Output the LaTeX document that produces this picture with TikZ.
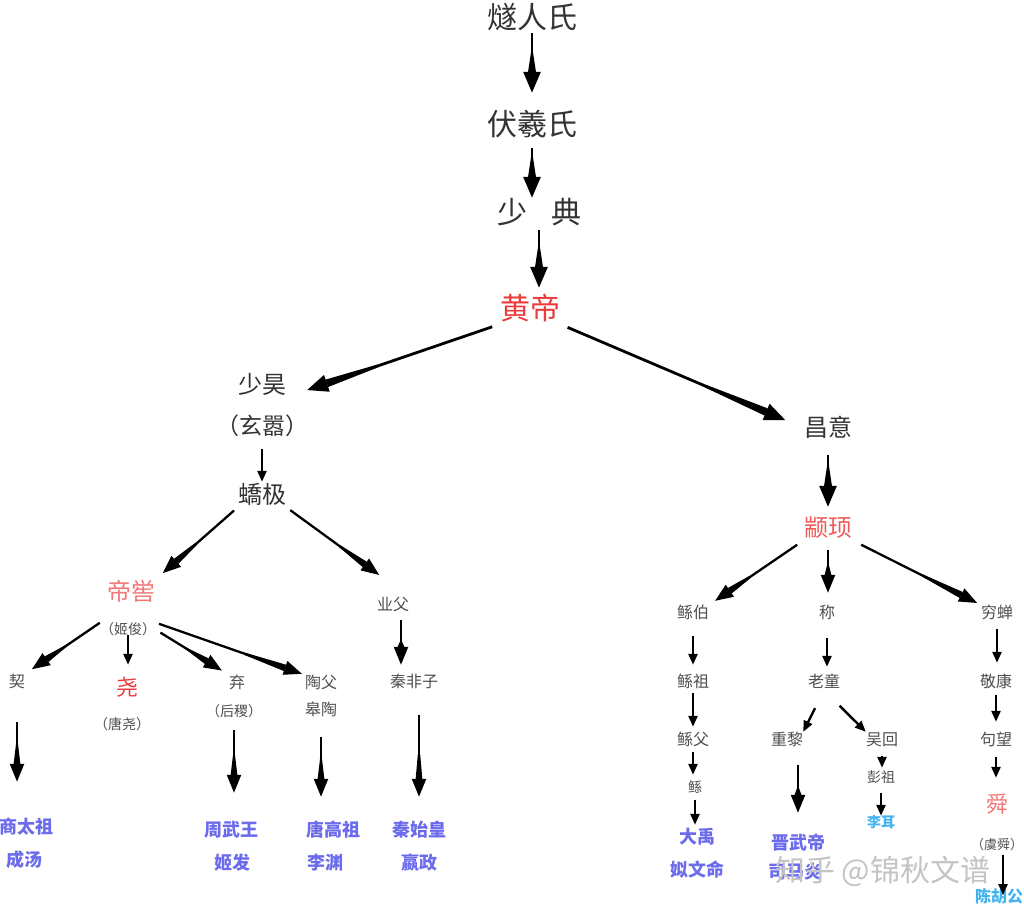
\documentclass[tikz,border=0pt]{standalone}
\usepackage{fontspec}
\setmainfont{Noto Sans CJK SC}
\usetikzlibrary{arrows.meta}

\definecolor{inkgray}{HTML}{333333}
\definecolor{softgray}{HTML}{4F4F4F}
\definecolor{namered}{HTML}{EC3B3B}
\definecolor{namepink}{HTML}{F27676}
\definecolor{nameblue}{HTML}{6B6BEC}
\definecolor{namecyan}{HTML}{45B4EE}
\definecolor{markgray}{HTML}{C4C4C4}

\begin{document}
\begin{tikzpicture}[x=1pt, y=-1pt,
  fsz/.style={font=\fontsize{#1}{#1}\selectfont, text height=0.84*#1pt, text depth=0.16*#1pt},
  person/.style={inner sep=0pt, text=softgray},
  top/.style={person, fsz=30, text=inkgray},
  mid/.style={person, fsz=24, text=inkgray},
  low/.style={person, fsz=16},
  note/.style={person, fsz=14},
  heir/.style={person, fsz=18, text=nameblue, execute at begin node={\bfseries}},
  bigarrow/.style={line width=2.8pt, -{Triangle[reversed,length=#1,width=7pt] Triangle[length=21pt,width=17pt]}},
  bigarrow/.default=28pt,
  midarrow/.style={line width=2.3pt, -{Triangle[reversed,length=#1,width=6pt] Triangle[length=18pt,width=14pt]}},
  midarrow/.default=20pt,
  smallarrow/.style={line width=2.4pt, -{Triangle[length=11pt,width=9pt]}}]
\clip (0,0) rectangle (1024,914);
\fill[white] (0,0) rectangle (1024,914);

% trunk
\foreach \n/\x/\y/\t in {sr/532/18/燧人氏, fx/532/125/伏羲氏, sd/539/213/{少\hspace{24pt}典}}
  \node[top] (\n) at (\x,\y) {\t};
\node[top, text=namered] (hd) at (530,309) {黄帝};

% second row
\node[mid] (sh) at (262,385) {少昊};
\node[mid, fsz=23] (shx) at (262,427) {（玄嚣）};
\node[mid] (jj) at (262,495) {蟜极};
\node[mid] (cy) at (828,428) {昌意};
\node[mid, text=namered!85] (zx) at (828,528) {颛顼};

% left branch
\node[mid, text=namepink] (dk) at (131,592) {帝喾};
\node[note] (dkx) at (128,630) {（姬俊）};
\node[low] (yf) at (393,605) {业父};
\foreach \n/\x/\y/\t in {qi/17/682/契, qq/237/683/弃, tf/321/683/陶父, gy/321/710/皋陶, qfz/414/682/秦非子}
  \node[low] (\n) at (\x,\y) {\t};
\node[low, fsz=22, text=namered] (yao) at (127,688) {尧};
\node[note] (yaox) at (122,725) {（唐尧）};
\node[note] (qqx) at (234,712) {（后稷）};

% right branch
\foreach \n/\x/\y/\t in {gb/693/613/鲧伯, ch/827/613/称, qc/997/613/穷蝉,
                         gz/693/682/鲧祖, lt/824/682/老童, jk/996/682/敬康,
                         gf/693/740/鲧父, zl/787/740/重黎, wh/882/740/吴回, gw/996/740/句望}
  \node[low] (\n) at (\x,\y) {\t};
\node[note] (gun) at (695,788) {鲧};
\node[note] (pz) at (881,778) {彭祖};
\node[low, fsz=22, text=namepink] (shun) at (997,805) {舜};
\node[note, fsz=13] (shunx) at (997,845) {（虞舜）};

% descendants
\foreach \n/\x/\y/\t in {st/26/827/商太祖, ct/24/860/成汤, zw/231/830/周武王, jf/232/863/姬发,
                         tg/333/830/唐高祖, ly/325/863/李渊, qs/419/830/秦始皇, yz/419/863/嬴政,
                         dy/697/837/大禹, syw/697/870/姒文命, jw/798/843/晋武帝, smy/795/872/司马炎}
  \node[heir] (\n) at (\x,\y) {\t};
\node[heir, fsz=14, text=namecyan] (le) at (881,823) {李耳};
\node[heir, fsz=16, text=namecyan] (chg) at (999,897) {陈胡公};

% arrows of the trunk
\foreach \a/\b/\s/\e in {sr/fx/0pt/17pt, fx/sd/8pt/0pt, sd/hd/2pt/6pt, cy/zx/15pt/9pt}
  \draw[bigarrow, shorten <=\s, shorten >=\e] (\a.south) -- (\a.south |- \b.north);
\draw[bigarrow=90pt, shorten <=8pt, shorten >=22pt] (hd.south west) -- (sh.south east);
\draw[bigarrow=110pt, shorten <=8pt, shorten >=20pt] (hd.south east) -- (cy.west);

% arrows on the left
\draw[smallarrow, shorten <=10pt, shorten >=1pt] (shx.south) -- (shx.south |- jj.north);
\draw[midarrow=45pt, shorten <=5pt, shorten >=10pt] (jj.south west) -- (dk.north east);
\draw[midarrow=50pt, shorten <=5pt, shorten >=37pt] (jj.south east) -- (yf.north east);
\draw[midarrow=35pt, shorten <=0pt, shorten >=8pt] (dkx.north west) -- (qi.north east);
\draw[smallarrow, shorten <=5pt, shorten >=12pt] (dkx.center) -- (dkx.center |- yao.north);
\draw[midarrow=35pt, shorten <=5pt, shorten >=8pt] (dkx.east) -- (qq.north west);
\draw[midarrow=70pt, shorten <=3pt, shorten >=3pt] (dkx.north east) -- (tf.north west);
\draw[midarrow=8pt, shorten <=7pt, shorten >=9pt] ([xshift=8pt]yf.south) -- ([xshift=8pt]yf.south |- qfz.north);

% long arrows down to the descendants
\foreach \a/\b/\s/\e in {qi/st/32pt/36pt, qqx/zw/11pt/28pt, gy/tg/19pt/24pt}
  \draw[midarrow=30pt, shorten <=\s, shorten >=\e] (\a.south) -- (\a.south |- \b.north);
\draw[midarrow=40pt, shorten <=25pt, shorten >=24pt] (qs.north |- qfz.south) -- (qs.north);

% arrows on the right
\draw[midarrow=40pt, shorten <=8pt, shorten >=7pt] (zx.south west) -- (gb.north east);
\draw[midarrow=14pt, shorten <=10pt, shorten >=12pt] (zx.south) -- (zx.south |- ch.north);
\draw[midarrow=70pt, shorten <=10pt, shorten >=4pt] (zx.south east) -- (qc.north west);
\foreach \a/\b/\s/\e in {gb/gz/15pt/9pt, gz/gf/3pt/5pt, gf/gun/4pt/6pt, gun/dy/5pt/3pt,
                         ch/lt/17pt/7pt, wh/pz/8pt/3pt, pz/le/8pt/0pt,
                         qc/jk/8pt/11pt, jk/gw/5pt/10pt, gw/shun/9pt/16pt}
  \draw[smallarrow, shorten <=\s, shorten >=\e] (\a.south) -- (\a.south |- \b.north);
\draw[smallarrow, shorten <=20pt] (lt.south) -- (zl.north east);
\draw[smallarrow, shorten <=22pt] (lt.south) -- (wh.north west);
\draw[midarrow=10pt, shorten <=17pt, shorten >=21pt] (jw.north |- zl.south) -- (jw.north);
\draw[smallarrow, shorten <=3pt, shorten >=2pt] ([xshift=6pt]shunx.south) -- ([xshift=6pt]shunx.south |- chg.center);

% watermark
\node[person, fsz=30, text=markgray, anchor=west] (mark) at (775,871) {知乎 @锦秋文谱};
\end{tikzpicture}
\end{document}
